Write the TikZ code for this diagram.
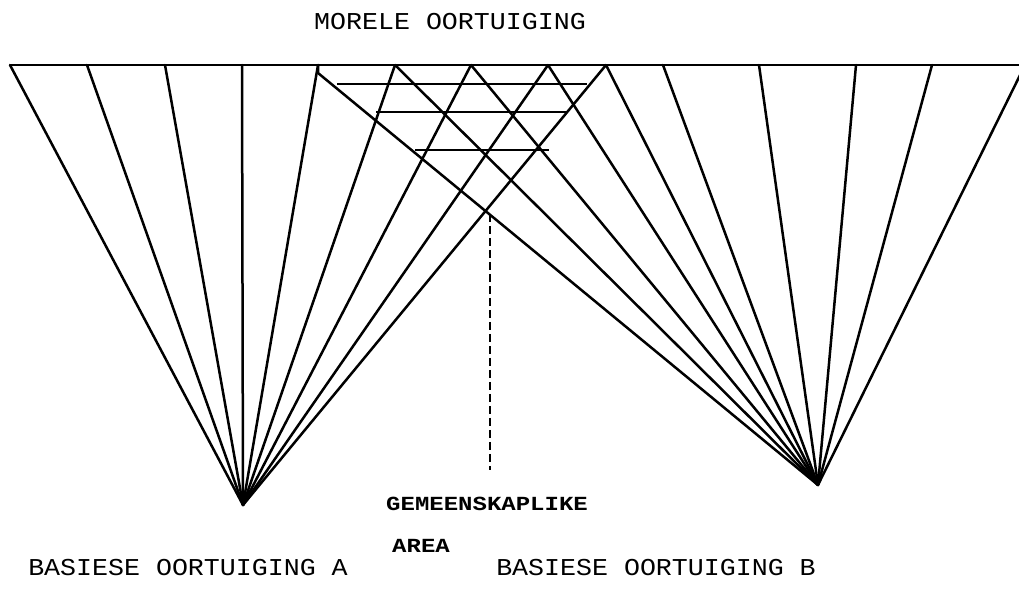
\documentclass[tikz,border=0pt]{standalone}
\usepackage{fontspec}
\usetikzlibrary{calc}
\newfontfamily\labelfont[FakeStretch=1.1]{Liberation Mono}
\newfontfamily\areafont[FakeStretch=1.2]{Liberation Mono Bold}

\begin{document}
\begin{tikzpicture}[
    x=1pt, y=-1pt,
    ray/.style={line width=2.5pt, line cap=round},
    rim/.style={line width=2.3pt},
    rung/.style={line width=2.3pt},
    guide/.style={line width=1.8pt, dash pattern=on 8pt off 4pt},
    title/.style={font=\labelfont\fontsize{24.2}{29}\selectfont, inner sep=0pt, anchor=base},
    area/.style={font=\areafont\fontsize{20}{24}\selectfont, inner sep=0pt, anchor=base west},
]
\useasboundingbox (0,0) rectangle (1019,602);

% ===== Punte =====
\coordinate (A) at (243,505);
\coordinate (B) at (818,485);
\coordinate (t1) at (10,65);
\coordinate (t2) at (87,65);
\coordinate (t3) at (165,65);
\coordinate (t4) at (242,65);
\coordinate (t5) at (318,65);
\coordinate (t6) at (395,65);
\coordinate (t7) at (471,65);
\coordinate (t8) at (548,65);
\coordinate (t9) at (606,65);
\coordinate (t10) at (663,65);
\coordinate (t11) at (759,65);
\coordinate (t12) at (856,65);
\coordinate (t13) at (932,65);
\coordinate (t14) at (1025,65);
\coordinate (edge) at (1030,65);

% ===== Boonste lyn =====
\draw[rim] (t1) -- (edge);

% ===== Strale uit A =====
\draw[ray] (A) -- (t1);
\draw[ray] (A) -- (t2);
\draw[ray] (A) -- (t3);
\draw[ray] (A) -- (t4);
\draw[ray] (A) -- (t5);
\draw[ray] (A) -- (t6);
\draw[ray] (A) -- (t7);
\draw[ray] (A) -- (t8);
\draw[ray] (A) -- (t9);

% ===== Strale uit B =====
\draw[ray] (B) -- ($(t5)+(0,8)$) -- (t5);
\draw[ray] (B) -- (t6);
\draw[ray] (B) -- (t7);
\draw[ray] (B) -- (t8);
\draw[ray] (B) -- (t9);
\draw[ray] (B) -- (t10);
\draw[ray] (B) -- (t11);
\draw[ray] (B) -- (t12);
\draw[ray] (B) -- (t13);
\draw[ray] (B) -- (t14);

% ===== Dwarslyne =====
\coordinate (h1l) at (337,84);
\coordinate (h1r) at (587,84);
\coordinate (h2l) at (376,112);
\coordinate (h2r) at (567,112);
\coordinate (h3l) at (415,150);
\coordinate (h3r) at (549,150);
\draw[rung] (h1l) -- (h1r);
\draw[rung] (h2l) -- (h2r);
\draw[rung] (h3l) -- (h3r);

% ===== Gemeenskaplike area =====
\coordinate (meet) at (intersection of A--t9 and B--t5);
\coordinate (foot) at ($(meet |- 0,470)$);
\draw[guide] ($(meet)+(2,6)$) -- ($(foot)+(2,0)$);

% ===== Byskrifte =====
\node[title] (morele) at (450,30) {MORELE OORTUIGING};
\node[title] (basA) at (188,575) {BASIESE OORTUIGING A};
\node[title] (basB) at (656,575) {BASIESE OORTUIGING B};
\node[area] (gemeen) at (386,510) {GEMEENSKAPLIKE};
\node[area] (areaLbl) at (392,552) {AREA};

\end{tikzpicture}
\end{document}
